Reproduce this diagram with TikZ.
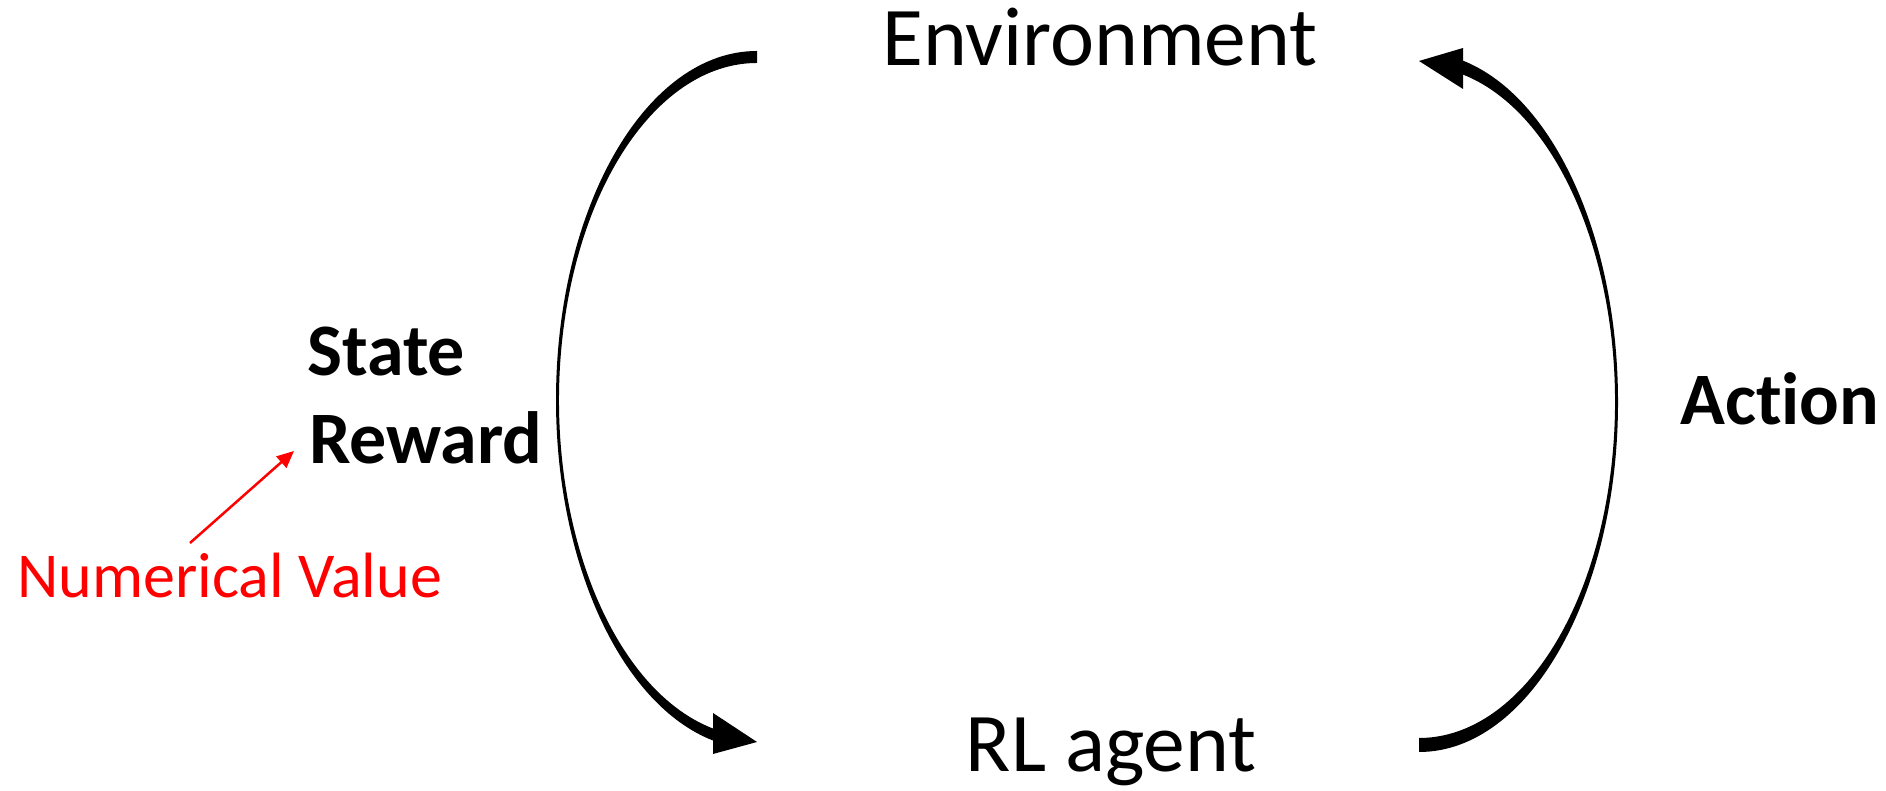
\documentclass[tikz,border=0pt]{standalone}
\usepackage{fontspec}
\setmainfont[Ligatures={NoCommon}]{Carlito}
\usetikzlibrary{arrows.meta}
\begin{document}
\begin{tikzpicture}[x=1pt,y=1pt,
  lbl/.style={inner sep=0pt, font=\fontsize{83.5}{100}\selectfont},
  blbl/.style={inner sep=0pt, font=\fontsize{74}{89}\selectfont\bfseries},
  note/.style={inner sep=0pt, text=red, font=\fontsize{64}{77}\selectfont},
  cycle/.style={fill=black, draw=none},
  pointer/.style={draw=red, line width=2.5pt, -{Triangle[length=17pt,width=15pt]}}]
\useasboundingbox (0,0) rectangle (1886,791);

% labels
\node[lbl, anchor=base] (env) at (1100,725) {Environment};
\node[lbl, anchor=base] (agent) at (1111,19) {RL agent};
\node[blbl, anchor=base west] (state) at (307,415) {State};
\node[blbl, anchor=base west] (reward) at (309,327) {Reward};
\node[blbl, anchor=base west] (action) at (1680,366) {Action};
\node[note, anchor=base west] (numval) at (17,193) {Numerical Value};

% centres of the two half-ellipse loops
\coordinate (lc) at (757,391);
\coordinate (rc) at (1419,389);

% left loop: environment -> agent (tapered crescent)
\fill[cycle] ([shift={(90:201 and 349)}]lc) arc[start angle=90, end angle=257.3, x radius=201, y radius=349]
  -- ([shift={(257.3:198 and 337)}]lc) arc[start angle=257.3, end angle=90, x radius=198, y radius=337] -- cycle;
\coordinate (ltip) at (757,49);
\fill[cycle] (713,78) -- (ltip) -- (713,37) -- cycle;

% right loop: agent -> environment
\fill[cycle] ([shift={(270:199 and 350)}]rc) arc[start angle=270, end angle=437.2, x radius=199, y radius=350]
  -- ([shift={(437.2:196 and 336)}]rc) arc[start angle=437.2, end angle=270, x radius=196, y radius=336] -- cycle;
\coordinate (rtip) at (1419,730);
\fill[cycle] (1463,743) -- (rtip) -- (1463,702) -- cycle;

% annotation pointer
\coordinate (nvfrom) at (190,248);
\coordinate (nvto) at (294,340);
\draw[pointer] (nvfrom) -- (nvto);
\end{tikzpicture}
\end{document}
